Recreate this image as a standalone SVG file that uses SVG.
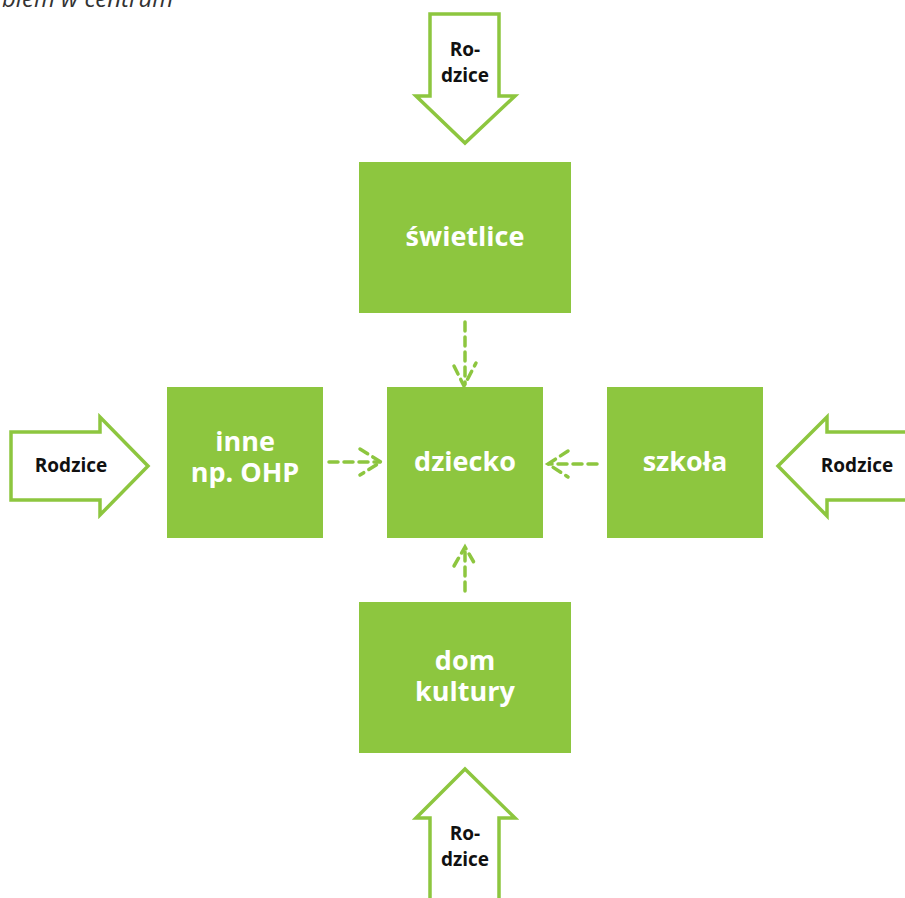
<svg xmlns="http://www.w3.org/2000/svg" width="905" height="898" viewBox="0 0 905 898">
<style>
.box{fill:#8dc63f}
.bt{fill:#fff;font-family:"Open Sans","DejaVu Sans",sans-serif;font-weight:bold;font-size:27px;text-anchor:middle}
.arr{fill:#fff;stroke:#8dc63f;stroke-width:3.5;stroke-linejoin:miter}
.at{fill:#111;font-family:"Open Sans","DejaVu Sans",sans-serif;font-weight:bold;font-size:19px;text-anchor:middle}
.con{fill:none;stroke:#8dc63f;stroke-width:3.5;stroke-dasharray:9 6;stroke-linecap:round}
.cap{font-family:"Open Sans","DejaVu Sans",sans-serif;font-style:italic;font-size:24px;fill:#333}
</style>
<rect width="905" height="898" fill="#fff"/>
<text class="cap" x="2" y="7">blem w centrum</text>

<g id="connectors">
<path class="con" d="M465 322 V384"/>
<path class="con" d="M454 366 L464 386 L476 363"/>
<path class="con" d="M329 462 H380"/>
<path class="con" d="M360 449 L381 462 L360 475"/>
<path class="con" d="M597 464 H549"/>
<path class="con" d="M568 451 L548 464 L568 477"/>
<path class="con" d="M465 591 V549"/>
<path class="con" d="M454 566 L465 547 L476 566"/>
</g>

<g id="parents-top">
<path class="arr" d="M430 14 H499 V96 H515 L465 143 L416 96 H430 Z"/>
<text class="at" x="465" y="56">Ro-</text>
<text class="at" x="465" y="82">dzice</text>
</g>
<g id="parents-left">
<path class="arr" d="M11 432 H100 V417 L148 466 L100 515 V500 H11 Z"/>
<text class="at" x="71" y="472">Rodzice</text>
</g>
<g id="parents-right">
<path class="arr" d="M910 432 H827 V417 L778 466 L827 516 V500 H910 Z"/>
<text class="at" x="857" y="472">Rodzice</text>
</g>
<g id="parents-bottom">
<path class="arr" d="M430 905 V818 H416 L465 769 L515 818 H499 V905 Z"/>
<text class="at" x="465" y="840">Ro-</text>
<text class="at" x="465" y="866">dzice</text>
</g>

<g id="swietlice">
<rect class="box" x="359" y="162" width="212" height="151"/>
<text class="bt" x="465" y="246">świetlice</text>
</g>
<g id="inne">
<rect class="box" x="167" y="387" width="156" height="151"/>
<text class="bt" x="245" y="451">inne</text>
<text class="bt" x="245" y="482">np. OHP</text>
</g>
<g id="dziecko">
<rect class="box" x="387" y="387" width="156" height="151"/>
<text class="bt" x="465" y="471">dziecko</text>
</g>
<g id="szkola">
<rect class="box" x="607" y="387" width="156" height="151"/>
<text class="bt" x="685" y="471">szkoła</text>
</g>
<g id="dom-kultury">
<rect class="box" x="359" y="602" width="212" height="151"/>
<text class="bt" x="465" y="670">dom</text>
<text class="bt" x="465" y="701">kultury</text>
</g>
</svg>
